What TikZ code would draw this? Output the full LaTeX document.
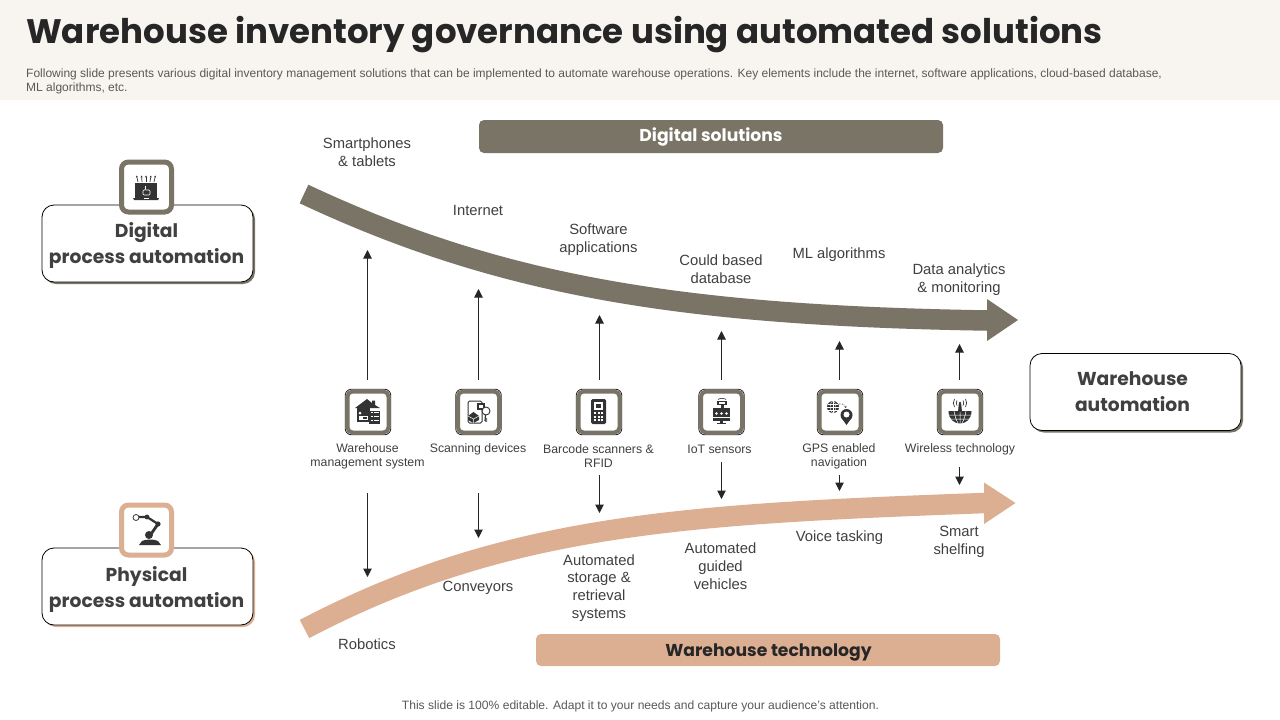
\documentclass[tikz,border=0pt]{standalone}
\usepackage{fontspec}
\setmainfont{Liberation Sans}
\newfontfamily\headf{Poppins}[Scale=1.0]
\usetikzlibrary{arrows.meta,calc}
\definecolor{hdrbg}{HTML}{F8F4F0}
\definecolor{taupe}{HTML}{7A7467}
\definecolor{peach}{HTML}{DCAE92}
\definecolor{inkc}{HTML}{404040}
\definecolor{darkc}{HTML}{262626}
\definecolor{subc}{HTML}{595959}
\definecolor{iconc}{HTML}{333333}
\tikzset{
  lbl/.style={font=\fontsize{14.8}{17.8}\selectfont,text=inkc,align=center,inner sep=0pt},
  sml/.style={font=\fontsize{12.3}{14}\selectfont,text=inkc,align=center,inner sep=0pt},
  band/.style={line width=20.5pt},
  flow/.style={draw=darkc,line width=1pt,-{Triangle[length=8.5pt,width=8.5pt]}},
  bigbox/.style={draw=black,line width=0.8pt,fill=white,rounded corners=12pt,minimum width=211pt,minimum height=77pt,inner sep=0pt},
  boxtext/.style={inner sep=0pt,align=center,font=\headf\bfseries\fontsize{18.7}{26}\selectfont,text=inkc},
  shadowbox/.style={rounded corners=12pt,minimum width=211pt,minimum height=77pt,inner sep=0pt},
  bigicon/.style={draw=#1,line width=5pt,fill=white,rounded corners=7pt,minimum size=50pt,inner sep=0pt},
  smallicon/.style={draw=taupe,line width=4pt,fill=white,rounded corners=5pt,minimum size=41pt,inner sep=0pt},
  smalloutline/.style={draw=darkc,line width=0.8pt,rounded corners=6pt,minimum size=45.5pt,inner sep=0pt},
  banner/.style={rounded corners=5pt,minimum width=464pt,minimum height=33pt,inner sep=0pt},
  bannertext/.style={inner sep=0pt,font=\headf\bfseries\fontsize{17.2}{20}\selectfont},
  ic/.style={fill=iconc,draw=none},
  icw/.style={fill=white,draw=none}
}
\newcommand{\smallbox}[3]{%
  \node[smalloutline] at (#2,#3) {};
  \node[smallicon] (#1) at (#2,#3) {};
}
\begin{document}
\begin{tikzpicture}[x=1pt,y=-1pt]
\useasboundingbox (0,0) rectangle (1280,720);
\fill[white] (0,0) rectangle (1280,720);
\fill[hdrbg] (0,0) rectangle (1280,100);
\node[anchor=west,inner sep=0pt,text=darkc,font=\headf\bfseries\fontsize{34}{38}\selectfont] (title) at (26,35) {Warehouse inventory governance using automated solutions};
\node[anchor=north west,inner sep=0pt,text=subc,align=left,font=\fontsize{12}{14}\selectfont] (sub) at (26,68.5) {Following slide presents various digital inventory management solutions that can be implemented to automate warehouse operations. Key elements include the internet, software applications, cloud-based database,\\ML algorithms, etc.};
% banners
\node[banner,fill=taupe] (bandig) at (711,136.5) {};
\node[bannertext,text=white] (bandigt) at (711,137) {Digital solutions};
\node[banner,fill=peach,minimum height=32pt] (banwh) at (768,650) {};
\node[bannertext,text=darkc] (banwht) at (768.5,652) {Warehouse technology};
% curved bands
\draw[band,taupe] (304,194) .. controls (504,288) and (687,315.5) .. (987,320.5);
\fill[taupe] (987,299) -- (1018,320) -- (987,341) -- cycle;
\draw[band,peach] (304.5,629) .. controls (504.5,524) and (684,514) .. (985,503);
\fill[peach] (984,482.5) -- (1015.5,503) -- (984,524) -- cycle;
% left and right boxes
\node[shadowbox,fill=taupe] at (149.5,245.5) {};
\node[bigbox] (dpa) at (147.5,243.5) {};
\node[boxtext] (dpat) at (146.5,245.5) {Digital\\process automation};
\node[shadowbox,fill=peach] at (149.5,588.5) {};
\node[bigbox] (ppa) at (147.5,586.5) {};
\node[boxtext] (ppat) at (146.5,589.5) {Physical\\process automation};
\node[shadowbox,fill=taupe] at (1137.5,394) {};
\node[bigbox] (wa) at (1135.5,392) {};
\node[boxtext] (wat) at (1132.5,392) {Warehouse\hspace{9pt}\\automation};
% big icons
\node[bigicon=taupe] (bi1) at (146.5,187) {};
\node[bigicon=peach] (bi2) at (146.5,530) {};
% laptop
\fill[ic] (135,183) rectangle (157,198);
\fill[ic] (133,198) -- (159,198) -- (158,200) -- (134,200) -- cycle;
\fill[icw] (143.5,198) rectangle (149,199);
\draw[white,line width=0.7pt,rounded corners=1pt] (145.5,186) -- (145.5,190) -- (143,190) -- (143,195) -- (150,195) -- (150,190) -- (145.5,190);
\foreach \a/\b in {138/136.5,142/141.5,146/146,150/151,154/155.5}
  \draw[iconc,line width=0.7pt,-{Stealth[length=2pt,width=2pt]}] (\a,182) -- (\b,175.5);
% robot
\fill[ic] (139,545) -- (142,541) .. controls (146,539) and (154,539) .. (158,541) -- (161,545) -- cycle;
\draw[iconc,line width=2.8pt] (149,537) -- (158,524);
\draw[iconc,line width=2.2pt] (158,524) -- (147,517) -- (139,517);
\fill[ic] (149,535) circle (4pt) (158,524) circle (2.6pt) (147,517) circle (2.4pt);
\draw[iconc,line width=0.8pt,fill=white] (136,517.5) circle (3pt);
% small icon boxes
\smallbox{s1}{368}{412}
\smallbox{s2}{478.5}{412}
\smallbox{s3}{599}{412}
\smallbox{s4}{721.5}{412}
\smallbox{s5}{840}{412}
\smallbox{s6}{960}{412}
% WMS icon
\fill[ic] (355,408) -- (367,399) -- (372,403) -- (372,400.5) -- (375,400.5) -- (375,405) -- (380,408) -- cycle;
\fill[ic] (357,408) rectangle (370,422);
\fill[icw] (360,413) circle (1.5pt);
\fill[icw] (358.5,416) rectangle (368,420);
\fill[ic] (363,417) rectangle (367,419);
\fill[ic] (369,410.5) rectangle (380,423.5);
\foreach \yy in {413,417,421} {\fill[icw] (370.5,\yy-1) rectangle (372.5,\yy); \fill[icw] (374,\yy-0.8) rectangle (379,\yy);}
% scanning icon
\draw[iconc,line width=1pt,rounded corners=1.5pt] (468,401) rectangle (482,423);
\fill[ic] (477,403) rectangle (485,410);
\fill[icw] (479,405) rectangle (483,408);
\fill[ic] (468,416) -- (473.5,412) -- (479,416) -- (479,420) -- (473.5,423) -- (468,420) -- cycle;
\draw[white,line width=0.5pt] (468,416) -- (473.5,419) -- (479,416) (473.5,419) -- (473.5,423);
\draw[iconc,line width=0.9pt,fill=white] (486,411) circle (4pt);
\draw[iconc,line width=1.2pt] (485.5,415) -- (485,421) (485,419) -- (487,419) (485,421) -- (487,421);
% barcode scanner icon
\fill[ic,rounded corners=1.5pt] (591,399) rectangle (606,424);
\fill[icw] (594,402) rectangle (603,410);
\fill[ic] (596,404) rectangle (601,408);
\foreach \yy in {413,416.5,420} \foreach \xx in {595,598.5,602} \fill[icw] (\xx-1,\yy-1) rectangle (\xx+1,\yy+1);
% IoT icon
\fill[ic] (717,401) rectangle (727,405);
\fill[icw] (719,402.3) rectangle (725,403.7);
\fill[ic] (720.5,405) rectangle (723.5,408);
\draw[iconc,line width=0.6pt] (718,399.5) .. controls (720,398) and (724,398) .. (726,399.5);
\fill[ic] (713,408) rectangle (730,421);
\foreach \xx in {716.5,721.5,726.5} \fill[icw] (\xx,413.5) circle (1.3pt);
\fill[icw] (713,417) rectangle (730,417.6);
\fill[ic] (720,421) rectangle (723,423);
\fill[ic] (717,423) rectangle (726,424);
% GPS icon
\fill[ic] (833,407) circle (6pt);
\draw[white,line width=0.35pt] (827,407) -- (839,407) (833,401) -- (833,413) (828,404) -- (838,404) (828,410) -- (838,410);
\draw[white,line width=0.35pt] (833,407) ellipse (2.8pt and 6pt);
\draw[iconc,line width=0.6pt,densely dotted,-{Stealth[length=2pt,width=2.2pt]}] (839,404) .. controls (843,403.5) and (845,405) .. (846,408);
\fill[ic] (846.5,415) circle (6pt);
\fill[ic] (846.5,425) -- (841.5,418) -- (851.5,418) -- cycle;
\fill[icw] (846.5,414.5) circle (3pt);
% wireless icon
\fill[ic] (948.5,411) -- (971.5,411) .. controls (971.5,419) and (966,423.5) .. (960,423.5) .. controls (954,423.5) and (948.5,419) .. (948.5,411) -- cycle;
\draw[white,line width=0.5pt] (948.5,415) -- (971.5,415) (950,419) -- (970,419) (960,411) -- (960,423.5) (954,411) .. controls (955,416) and (956,420) .. (958,423) (966,411) .. controls (965,416) and (964,420) .. (962,423);
\fill[ic] (958.8,404) -- (961.2,404) -- (962,412) -- (958,412) -- cycle;
\fill[ic] (960,403) circle (1.4pt);
\draw[iconc,line width=0.7pt] (957,400.5) .. controls (956,402) and (956,404) .. (957,405.5) (963,400.5) .. controls (964,402) and (964,404) .. (963,405.5);
\draw[iconc,line width=0.7pt] (954.5,399) .. controls (953,402) and (953,404) .. (954.5,407) (965.5,399) .. controls (967,402) and (967,404) .. (965.5,407);
% upper labels
\node[lbl] (u1) at (367,152) {Smartphones\\\&\ tablets};
\node[lbl] (u2) at (478,210) {Internet};
\node[lbl] (u3) at (598.5,239.5) {Software\\applications};
\node[lbl] (u4) at (721,269) {Could based\\database};
\node[lbl] (u5) at (839,255) {ML algorithms};
\node[lbl] (u6) at (959,279.5) {Data analytics\\\&\ monitoring};
% middle labels
\node[sml] (m1) at (367.5,456.5) {Warehouse\\management system};
\node[sml] (m2) at (478,449.5) {Scanning devices};
\node[sml] (m3) at (598.5,456.5) {Barcode scanners \&\\RFID};
\node[sml] (m4) at (719.5,449.5) {IoT sensors};
\node[sml] (m5) at (839,456.5) {GPS enabled\\navigation};
\node[sml] (m6) at (960,449.5) {Wireless technology};
% lower labels
\node[lbl] (l1) at (367,644) {Robotics};
\node[lbl] (l2) at (478,588) {Conveyors};
\node[lbl] (l3) at (599,588) {Automated\\storage \&\\retrieval\\systems};
\node[lbl] (l4) at (720.5,566) {Automated\\guided\\vehicles};
\node[lbl] (l5) at (839.5,537.5) {Voice tasking};
\node[lbl] (l6) at (959,541.5) {Smart\\shelfing};
% arrows
\foreach \n/\xx/\ya/\yb/\yc/\yd in {1/367.5/380/250/493/577, 2/478.5/380/289/493/538, 3/599.5/380/315/475/513, 4/721.5/380/331/462/499, 5/839.5/380/341/475/491, 6/959.5/380/344/467/485} {
  \coordinate (ua\n) at (\xx,\ya);
  \coordinate (ub\n) at (\xx,\yb);
  \coordinate (da\n) at (\xx,\yc);
  \coordinate (db\n) at (\xx,\yd);
  \draw[flow] (ua\n) -- (ub\n);
  \draw[flow] (da\n) -- (db\n);
}
% footer
\node[inner sep=0pt,text=subc,font=\fontsize{12.1}{14}\selectfont] (foot) at (640.5,706) {This slide is 100\% editable. Adapt it to your needs and capture your audience’s attention.};
\end{tikzpicture}
\end{document}
